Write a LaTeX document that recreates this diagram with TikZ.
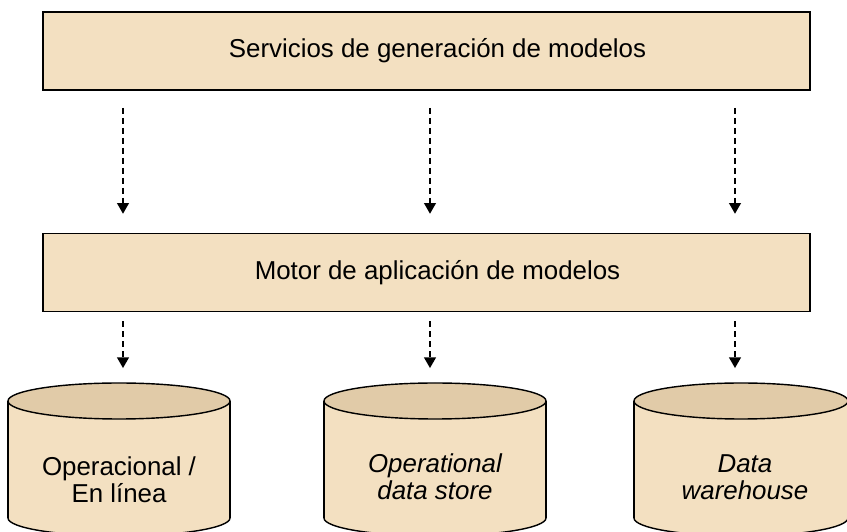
\documentclass[tikz,border=0pt]{standalone}
\usepackage{fontspec}
\setmainfont{Liberation Sans}
\usetikzlibrary{arrows.meta}
\definecolor{sand}{HTML}{F3E0C1}
\definecolor{sanddark}{HTML}{E1CBA8}
\tikzset{
  layerbox/.style={draw=black, line width=1.6pt, fill=sand, minimum width=767pt*0.85, minimum height=78pt*0.85, inner sep=0pt,
    font=\fontsize{22}{23}\selectfont},
  flow/.style={line width=1.2pt, dash pattern=on 5pt off 3.5pt, -{Triangle[length=9pt,width=10pt]}},
  dbtext/.style={align=center, font=\fontsize{22}{23}\selectfont},
  dbline/.style={draw=black, line width=1.2pt}
}
% draw a cylinder: #1 centre x, #2 half width
\newcommand{\dbcyl}[2]{%
  \filldraw[dbline, fill=sand] (#1,518) ellipse ({#2} and 18);
  \fill[sand] (#1-#2,401) rectangle (#1+#2,518);
  \draw[dbline] (#1-#2,401) -- (#1-#2,518);
  \draw[dbline] (#1+#2,401) -- (#1+#2,518);
  \filldraw[dbline, fill=sanddark] (#1,401) ellipse ({#2} and 18);
}
\begin{document}
\begin{tikzpicture}[x=0.85pt, y=-0.85pt]
  \clip (0,0) rectangle (847,532);

  % two layers (labels sit a little right of centre)
  \node[layerbox] (gen) at (426.5,51) {\hspace*{18.7pt}Servicios de generación de modelos};
  \node[layerbox] (app) at (426.5,272.5) {\hspace*{18.7pt}Motor de aplicación de modelos};

  % data stores
  \dbcyl{119}{111}
  \dbcyl{435}{111}
  \dbcyl{741}{107}
  \coordinate (db1) at (119,383);
  \coordinate (db2) at (435,383);
  \coordinate (db3) at (741,383);
  \node[dbtext] (oper) at (119,480) {Operacional /\\En línea};
  \node[dbtext] (ods) at (435,477) {\itshape Operational\\\itshape data store};
  \node[dbtext] (dw) at (745,477) {\itshape Data\\\itshape warehouse};

  % model generation feeds the application engine
  \foreach \x in {123,430,735}{
    \draw[flow, shorten <=14.5pt, shorten >=16pt] (gen.south -| \x,0) -- (app.north -| \x,0);
  }
  % application engine feeds each store
  \draw[flow, shorten <=7.6pt, shorten >=12.7pt] (app.south -| 123,0) -- (db1 -| 123,0);
  \draw[flow, shorten <=7.6pt, shorten >=12.7pt] (app.south -| 430,0) -- (db2 -| 430,0);
  \draw[flow, shorten <=7.6pt, shorten >=12.7pt] (app.south -| 735,0) -- (db3 -| 735,0);
\end{tikzpicture}
\end{document}
